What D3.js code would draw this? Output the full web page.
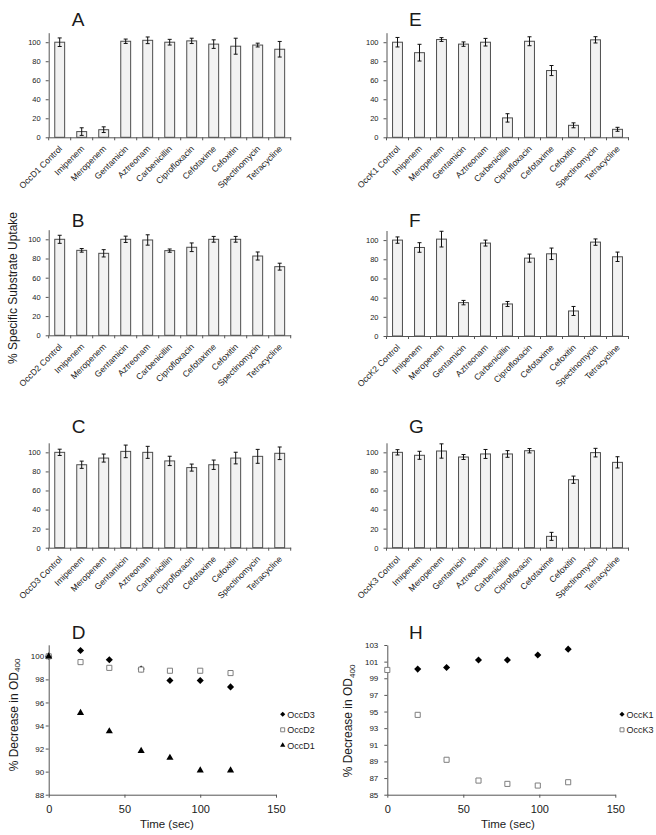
<!DOCTYPE html>
<html><head><meta charset="utf-8">
<script src="https://cdn.jsdelivr.net/npm/d3@7/dist/d3.min.js"></script>
<style>
body{margin:0;background:#fff}
svg{display:block}
text{font-family:"Liberation Sans",Arial,sans-serif;fill:#1a1a1a}
</style>
</head><body><svg id="chart" width="656" height="835"></svg>
<script>
// ---------- DATA ----------
const antibiotics = ["Imipenem","Meropenem","Gentamicin","Aztreonam","Carbenicillin","Ciprofloxacin","Cefotaxime","Cefoxitin","Spectinomycin","Tetracycline"];
const barYTicks = [0,20,40,60,80,100];

const labelsA = ["OccD1 Control", ...antibiotics];
const valuesA = [100,6,8,101,102,100,101.4,98,95.8,97,92.6];
const errorsA = [4.5,4,3,2.3,3.5,3,2.8,4.5,8.4,2,8.2];

const labelsB = ["OccD2 Control", ...antibiotics];
const valuesB = [100,88.5,85.4,100,99.3,88.2,91.7,100,100,82.6,71.5];
const errorsB = [4.2,1.9,3.8,3.3,5.4,1.7,4.5,3,3,4.2,3.6];

const labelsC = ["OccD3 Control", ...antibiotics];
const valuesC = [100,87,94,101,100,91,84,87,94,95.8,99];
const errorsC = [3.3,3.8,4.2,6.6,6.3,4.9,3.7,4.9,6.1,7.3,6.6];

const labelsE = ["OccK1 Control", ...antibiotics];
const valuesE = [100,89,102.8,98,100,20.4,101,70.2,12.6,102.5,8.4];
const errorsE = [5,8.8,2,2.3,4,4.4,4.7,5.3,2.6,3.3,2.1];

const labelsF = ["OccK2 Control", ...antibiotics];
const valuesF = [100,92.3,101,34.8,96.9,33.4,81.2,85.7,26.1,97.9,82.6];
const errorsF = [3.3,5,8.2,2.3,3.1,2.6,4.2,6,4.7,3.3,4.9];

const labelsG = ["OccK3 Control", ...antibiotics];
const valuesG = [100,96.9,101.4,95.1,98.3,98.3,101.7,11.9,71.3,99.7,89.5];
const errorsG = [2.8,4.2,7.5,2.6,4.7,3.5,2.3,4.2,3.8,4.5,5.9];

// Panel D
const timeD = [0,21,40,61,80,100,120];
const occD3 = [100,100.5,99.7,98.9,97.9,97.9,97.35];
const occD2 = [100,99.5,99.0,98.85,98.75,98.75,98.55];
const occD1 = [100,95.1,93.5,91.8,91.2,90.1,90.1];
const yTicksD = [88,90,92,94,96,98,100];

// Panel H
const timeK1 = [20,39,60,79,99,119];
const occK1 = [100.1,100.3,101.2,101.2,101.8,102.5];
const timeK3 = [0,20,39,60,79,99,119];
const occK3 = [100,94.6,89.2,86.7,86.3,86.1,86.5];
const yTicksH = [85,87,89,91,93,95,97,99,101,103];
const timeTicks = [0,50,100,150];

// ---------- DRAWING ----------
const svg = d3.select("#chart");
const AX = "#555";
const FONT = '"Liberation Sans",Arial,sans-serif';

function styleAxis(sel, fs){
  sel.selectAll("path,line").attr("stroke", AX).attr("stroke-width",1);
  sel.selectAll("text").attr("font-size", fs).attr("fill","#1a1a1a").attr("font-family",FONT);
}

function title(txt, x, y){
  svg.append("text").attr("x",x).attr("y",y).attr("font-size",19).text(txt);
}

function barPanel(p, labels, values, errors){
  const g = svg.append("g");
  const x = d3.scaleBand().domain(labels).range([p.x0, p.x1]);
  const y = d3.scaleLinear().domain([0,110]).range([p.yb, p.yt]);
  const bw = x.bandwidth()*0.45;
  const cx = d => x(d) + x.bandwidth()/2;
  const data = labels.map((l,i)=>({l, v: values[i], e: errors[i]}));

  g.selectAll("rect.bar").data(data).join("rect")
    .attr("x", d => cx(d.l) - bw/2).attr("width", bw)
    .attr("y", d => y(d.v)).attr("height", d => y(0) - y(d.v))
    .attr("fill","#f2f2f2").attr("stroke","#4d4d4d").attr("stroke-width",1);

  const eb = g.selectAll("g.err").data(data).join("g");
  eb.append("line").attr("x1",d=>cx(d.l)).attr("x2",d=>cx(d.l))
    .attr("y1",d=>y(d.v-d.e)).attr("y2",d=>y(d.v+d.e));
  eb.append("line").attr("x1",d=>cx(d.l)-2).attr("x2",d=>cx(d.l)+2)
    .attr("y1",d=>y(d.v+d.e)).attr("y2",d=>y(d.v+d.e));
  eb.append("line").attr("x1",d=>cx(d.l)-2).attr("x2",d=>cx(d.l)+2)
    .attr("y1",d=>y(d.v-d.e)).attr("y2",d=>y(d.v-d.e));
  eb.selectAll("line").attr("stroke","#111").attr("stroke-width",1);

  const ya = g.append("g").attr("transform",`translate(${p.x0},0)`)
    .call(d3.axisLeft(y).tickValues(barYTicks).tickSize(3).tickSizeOuter(0).tickPadding(5));
  styleAxis(ya, 7.5);

  const xa = g.append("g").attr("transform",`translate(0,${p.yb})`)
    .call(d3.axisBottom(x).tickSize(0).tickSizeOuter(0).tickFormat(""));
  styleAxis(xa, 8);
  const bounds = d3.range(labels.length+1).map(i => p.x0 + i*x.step());
  g.selectAll("line.bt").data(bounds).join("line")
    .attr("x1",d=>d).attr("x2",d=>d).attr("y1",p.yb).attr("y2",p.yb+3)
    .attr("stroke",AX);

  g.selectAll("text.cat").data(labels).join("text")
    .attr("text-anchor","end").attr("font-size",8.6)
    .attr("transform", d => `translate(${cx(d)+3},${p.yb+12}) rotate(-45)`)
    .text(d => d);
}

barPanel({x0:48.7, x1:290.7, yb:137.3, yt:32.7}, labelsA, valuesA, errorsA);
barPanel({x0:48.7, x1:290.7, yb:335.3, yt:229.7}, labelsB, valuesB, errorsB);
barPanel({x0:48.7, x1:290.7, yb:547.7, yt:442.8}, labelsC, valuesC, errorsC);
barPanel({x0:386.5, x1:628.5, yb:137.3, yt:32.7}, labelsE, valuesE, errorsE);
barPanel({x0:386.5, x1:628.5, yb:336, yt:230.5}, labelsF, valuesF, errorsF);
barPanel({x0:386.5, x1:628.5, yb:547.7, yt:442.8}, labelsG, valuesG, errorsG);

title("A", 71.7, 26); title("B", 71.7, 227.3); title("C", 71.7, 433.3); title("D", 71.7, 639.3);
title("E", 409, 25.5); title("F", 409, 226.7); title("G", 409, 432.7); title("H", 409, 639.3);

svg.append("text").attr("font-size",12).attr("text-anchor","middle")
  .attr("transform","translate(17,288) rotate(-90)").text("% Specific Substrate Uptake");

// ---------- SCATTER ----------
const shapeType = {diamond: d3.symbolSquare, square: d3.symbolSquare, triangle: d3.symbolTriangle};
const shapeRot = {diamond: 45, square: 0, triangle: 0};
const shapeSize = {diamond: 25, square: 26, triangle: 22};
const legendSize = {diamond: 13, square: 16, triangle: 12};
const markStyle = {
  diamond: s => s.attr("fill","#000"),
  square: s => s.attr("fill","#fff").attr("stroke","#7f7f7f").attr("stroke-width",1),
  triangle: s => s.attr("fill","#000")
};

function scatterPanel(p, yTicks, series, legend){
  const g = svg.append("g");
  const x = d3.scaleLinear().domain([0,150]).range([p.x0, p.x1]);
  const y = d3.scaleLinear().domain(p.yd).range([p.yb, p.yt]);

  const ya = g.append("g").attr("transform",`translate(${p.x0},0)`)
    .call(d3.axisLeft(y).tickValues(yTicks).tickSize(3).tickSizeOuter(0).tickPadding(p.ypad));
  styleAxis(ya, 8);
  const xa = g.append("g").attr("transform",`translate(0,${p.yb})`)
    .call(d3.axisBottom(x).tickValues(timeTicks).tickSize(3).tickSizeOuter(0).tickPadding(8));
  styleAxis(xa, 11);

  series.forEach(s => {
    const pts = s.t.map((t,i)=>[t, s.v[i]]);
    g.selectAll(null).data(pts).join("path")
      .attr("d", d3.symbol().type(shapeType[s.shape]).size(shapeSize[s.shape]))
      .attr("transform", d => `translate(${x(d[0])},${y(d[1])}) rotate(${shapeRot[s.shape]})`)
      .call(markStyle[s.shape]);
  });

  legend.forEach((s,i) => {
    const ly = p.ly + i*15.5;
    g.append("path").attr("d", d3.symbol().type(shapeType[s.shape]).size(legendSize[s.shape])())
      .attr("transform",`translate(${p.lx},${ly}) rotate(${shapeRot[s.shape]})`).call(markStyle[s.shape]);
    g.append("text").attr("x",p.lx+4.5).attr("y",ly+3.3).attr("font-size",9).text(s.name);
  });

  g.append("text").attr("font-size",11.5).attr("text-anchor","middle")
    .attr("x", p.xlx).attr("y", 828).text("Time (sec)");

  const yl = g.append("text").attr("font-size",12).attr("text-anchor","middle")
    .attr("transform",`translate(${p.ylx},${p.yly}) rotate(-90)`);
  yl.append("tspan").text("% Decrease in OD");
  yl.append("tspan").attr("font-size",8).attr("dy","0.35em").text("400");
}

scatterPanel({x0:48.7, x1:276, yb:794.7, yt:644.8, yd:[88,101], ypad:1.5, lx:282.7, ly:714.3, xlx:167, ylx:17.5, yly:715},
  yTicksD,
  [{t:timeD, v:occD3, shape:"diamond"},{t:timeD, v:occD2, shape:"square"},{t:timeD, v:occD1, shape:"triangle"}],
  [{name:"OccD3", shape:"diamond"},{name:"OccD2", shape:"square"},{name:"OccD1", shape:"triangle"}]);

scatterPanel({x0:387.3, x1:615.3, yb:794.7, yt:645, yd:[85,103], ypad:6, lx:622, ly:714.3, xlx:508, ylx:352, yly:721},
  yTicksH,
  [{t:timeK1, v:occK1, shape:"diamond"},{t:timeK3, v:occK3, shape:"square"}],
  [{name:"OccK1", shape:"diamond"},{name:"OccK3", shape:"square"}]);
</script>
</body></html>
